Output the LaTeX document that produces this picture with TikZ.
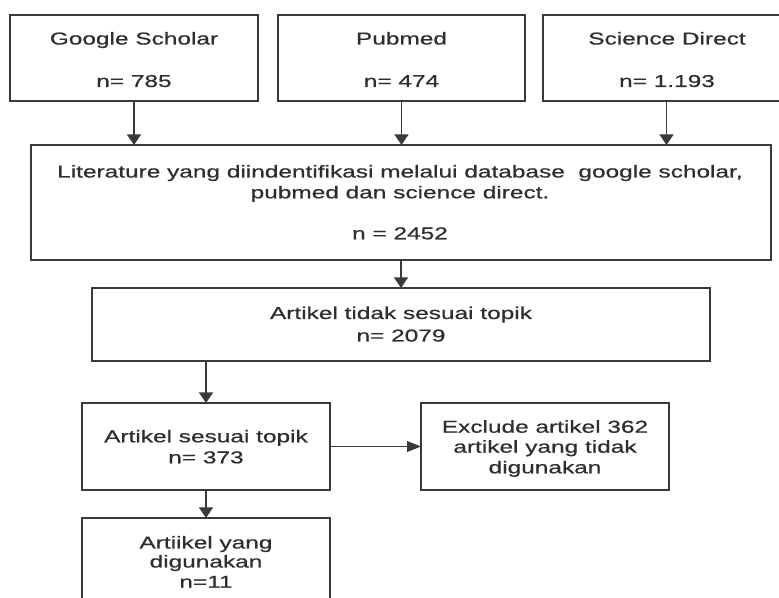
\documentclass[tikz,border=0pt]{standalone}
\usepackage{fontspec}
\setmainfont{Liberation Sans}[FakeStretch=1.42,FakeBold=0.6]
\usetikzlibrary{fit,arrows.meta}
\definecolor{ink}{HTML}{2E2E2E}
\definecolor{edge}{HTML}{3A3A3A}
\begin{document}
\begin{tikzpicture}[x=0.75pt,y=-0.75pt,
  box/.style={draw=edge,line width=1.3pt,inner sep=0pt,outer sep=0pt},
  txt/.style={text=ink,anchor=base,inner sep=0pt,font=\fontsize{12.9}{15.5}\selectfont},
  varr/.style={draw=edge,line width=1.3pt,-{Triangle[length=8pt,width=10.5pt]}},
  harr/.style={draw=edge,line width=1.3pt,-{Triangle[length=10.5pt,width=8pt]}}]
\clip (0,0) rectangle (779,598);
% boxes
\node[box,fit={(10,15) (258,101)}] (b1) {};
\node[box,fit={(278,15) (525,101)}] (b2) {};
\node[box,fit={(543,15) (790,101)}] (b3) {};
\node[box,fit={(31,145) (771,260)}] (b4) {};
\node[box,fit={(92,288) (710,361)}] (b5) {};
\node[box,fit={(82,403) (330,490)}] (b6) {};
\node[box,fit={(82,518) (330,630)}] (b7) {};
\node[box,fit={(421,403) (669,490)}] (b8) {};
% texts
\node[txt] (t1a) at (134,44.5) {Google Scholar};
\node[txt] (t1b) at (134,87) {n= 785};
\node[txt] (t2a) at (401.5,44.5) {Pubmed};
\node[txt] (t2b) at (401.5,87) {n= 474};
\node[txt] (t3a) at (667,44.5) {Science Direct};
\node[txt] (t3b) at (667,87) {n= 1.193};
\node[txt] (t4a) at (400,177.5) {Literature yang diindentifikasi melalui database\ \ google scholar,};
\node[txt] (t4b) at (400,198.3) {pubmed dan science direct.};
\node[txt] (t4c) at (400,239.3) {n = 2452};
\node[txt] (t5a) at (401,319) {Artikel tidak sesuai topik};
\node[txt] (t5b) at (401,341.5) {n= 2079};
\node[txt] (t6a) at (206,442.3) {Artikel sesuai topik};
\node[txt] (t6b) at (206,463.3) {n= 373};
\node[txt] (t7a) at (206,548.5) {Artiikel yang};
\node[txt] (t7b) at (206,567.5) {digunakan};
\node[txt] (t7c) at (206,587.7) {n=11};
\node[txt] (t8a) at (545,432.7) {Exclude artikel 362};
\node[txt] (t8b) at (545,452.7) {artikel yang tidak};
\node[txt] (t8c) at (545,473.3) {digunakan};
% arrows
\draw[varr] (b1.south) -- (b1.south |- b4.north);
\draw[varr] (b2.south) -- (b2.south |- b4.north);
\draw[varr] (b3.south) -- (b3.south |- b4.north);
\draw[varr] (b4.south -| b5.north) -- (b5.north);
\draw[varr] (b5.south -| b6.north) -- (b6.north);
\draw[varr] (b6.south) -- (b7.north);
\draw[harr] (b6.east) -- (b8.west);
\end{tikzpicture}
\end{document}
